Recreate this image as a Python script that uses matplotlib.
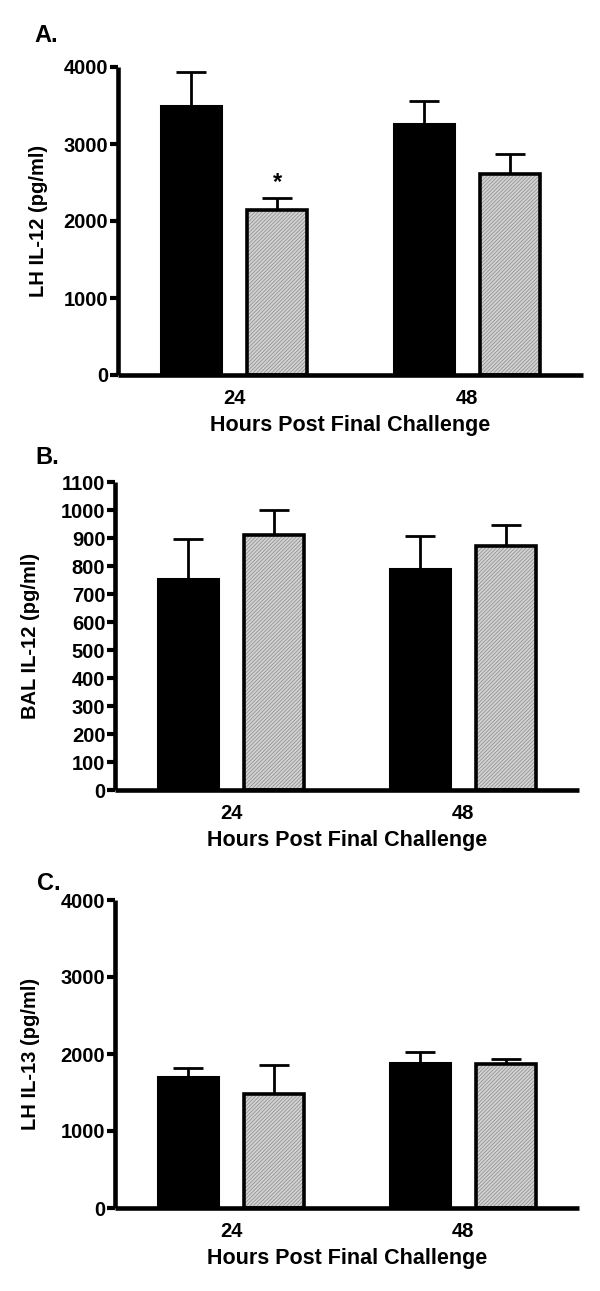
import matplotlib
matplotlib.use("Agg")
import matplotlib.pyplot as plt
import numpy as np

plt.rcParams['font.family'] = ['Liberation Sans', 'DejaVu Sans']
plt.rcParams['font.weight'] = 'bold'
plt.rcParams['hatch.linewidth'] = 0.5

groups = ['24', '48']
xlabel = 'Hours Post Final Challenge'

# Panel A
a_black = [3500, 3265]
a_black_err = [435, 295]
a_gray = [2145, 2615]
a_gray_err = [160, 250]
a_ticks = [0, 1000, 2000, 3000, 4000]

# Panel B
b_black = [755, 791]
b_black_err = [142, 117]
b_gray = [910, 870]
b_gray_err = [91, 78]
b_ticks = list(range(0, 1101, 100))

# Panel C
c_black = [1700, 1886]
c_black_err = [121, 142]
c_gray = [1484, 1864]
c_gray_err = [367, 65]
c_ticks = [0, 1000, 2000, 3000, 4000]

W, H = 600, 1291
fig = plt.figure(figsize=(W / 100, H / 100), dpi=100)


def make_ax(left, right, top, bottom):
    return fig.add_axes([left / W, 1 - bottom / H, (right - left) / W, (bottom - top) / H])


def draw(ax, black, black_err, gray, gray_err, ticks, ylabel, ymax, label, label_xy, ylab_x, star=None):
    x = np.arange(len(groups))
    off = 0.185
    w = 0.26
    # error bars (upper only)
    ax.errorbar(x - off, black, yerr=[np.zeros(len(black)), black_err], fmt='none',
                ecolor='black', elinewidth=2.0, capsize=11, capthick=2.0, zorder=1, clip_on=False)
    ax.errorbar(x + off, gray, yerr=[np.zeros(len(gray)), gray_err], fmt='none',
                ecolor='black', elinewidth=2.0, capsize=11, capthick=2.0, zorder=1, clip_on=False)
    ax.bar(x - off, black, width=w, color='black', edgecolor='black', linewidth=2.2, zorder=2)
    ax.bar(x + off, gray, width=w, color='#d2d2d2', edgecolor='#8a8a8a', hatch='/////////',
           linewidth=0, zorder=2)
    ax.bar(x + off, gray, width=w, fill=False, edgecolor='black', linewidth=2.6, zorder=3)
    if star is not None:
        i = star
        ax.text(x[i] + off, gray[i] + gray_err[i] + 40 * ymax / 4000, '*', ha='center', va='bottom',
                fontsize=17, fontweight='bold')
    ax.set_xlim(-0.5, 1.5)
    ax.set_ylim(0, ymax)
    ax.set_yticks(ticks)
    ax.set_yticklabels([str(t) for t in ticks])
    ax.set_xticks(x)
    ax.set_xticklabels(groups)
    ax.spines['top'].set_visible(False)
    ax.spines['right'].set_visible(False)
    for s in ['left', 'bottom']:
        ax.spines[s].set_linewidth(3.3)
        ax.spines[s].set_capstyle('butt')
    ax.tick_params(axis='y', length=6, width=3, pad=1, labelsize=14.5)
    ax.tick_params(axis='x', length=0, pad=10, labelsize=14.5)
    for t in ax.get_xticklabels() + ax.get_yticklabels():
        t.set_fontweight('bold')
    ax.set_xlabel(xlabel, fontsize=15.5, fontweight='bold', labelpad=5)
    ax.set_ylabel(ylabel, fontsize=14.5, fontweight='bold')
    ax.yaxis.set_label_coords(ylab_x, 0.5)
    fig.text(label_xy[0] / W, 1 - label_xy[1] / H, label, fontsize=17, fontweight='bold',
             ha='left', va='center')


axA = make_ax(118, 583, 67, 375)
draw(axA, a_black, a_black_err, a_gray, a_gray_err, a_ticks, 'LH IL-12 (pg/ml)', 4000, 'A.',
     (34, 36), -0.15, star=0)

axB = make_ax(115, 579, 482, 790)
draw(axB, b_black, b_black_err, b_gray, b_gray_err, b_ticks, 'BAL IL-12 (pg/ml)', 1100, 'B.',
     (35, 458), -0.162)

axC = make_ax(115, 579, 900, 1208)
draw(axC, c_black, c_black_err, c_gray, c_gray_err, c_ticks, 'LH IL-13 (pg/ml)', 4000, 'C.',
     (37, 884), -0.162)

fig.savefig('out.png', dpi=100)
